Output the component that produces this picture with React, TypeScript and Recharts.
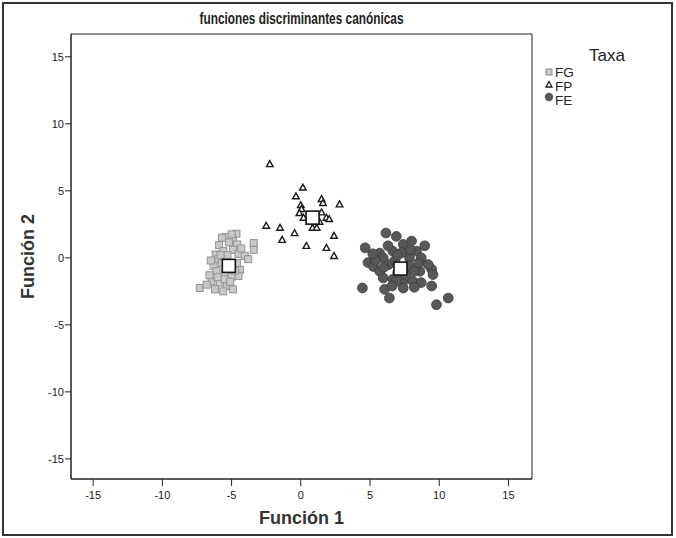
import React from 'react';
import { ScatterChart, Scatter, XAxis, YAxis, ReferenceArea } from 'recharts';

const TITLE = 'funciones discriminantes canónicas';
const X_LABEL = 'Función 1';
const Y_LABEL = 'Función 2';
const LEGEND_TITLE = 'Taxa';
const TICKS = [-15, -10, -5, 0, 5, 10, 15];
const X_DOMAIN = [-16.6, 16.7];
const Y_DOMAIN = [-16.5, 16.7];

// grupo FG (cuadrados grises)
const fgPoints = [
  [-4.65, 1.8], [-5.4, 1.55], [-4.9, 1.3], [-3.4, 1.1], [-3.4, 0.6], [-5.9, 0.95],
  [-5.2, 1.15], [-4.6, 1.0], [-5.6, 0.5], [-4.9, 0.6], [-4.5, 0.3], [-4.05, 0.15],
  [-3.8, -0.1], [-6.15, 0.25], [-5.95, -0.1], [-6.3, -0.6], [-5.7, -0.4], [-4.6, -0.4],
  [-6.1, -1.0], [-5.5, -1.1], [-4.4, -0.9], [-4.5, -1.35], [-5.0, -1.4], [-6.45, -1.75],
  [-5.85, -1.85], [-5.35, -2.1], [-7.3, -2.25], [-6.2, -2.35], [-5.6, -2.5], [-4.9, -2.35],
  [-6.6, -1.3], [-5.3, 0.2], [-4.75, -0.95], [-6.0, -1.45], [-5.5, -1.6], [-5.1, -1.8],
  [-6.8, -2.0], [-5.8, 0.2], [-4.3, 0.7], [-6.5, -0.2], [-5.0, 1.75], [-5.7, 1.5],
];

// grupo FP (triángulos)
const fpPoints = [
  [-2.24, 7.0], [0.15, 5.25], [-0.35, 4.6], [1.5, 4.4], [1.6, 4.1], [2.8, 4.0],
  [0.0, 3.95], [0.05, 3.65], [-0.1, 3.35], [0.2, 3.0], [1.5, 3.4], [1.85, 3.0],
  [2.05, 2.9], [1.35, 2.7], [0.85, 2.25], [1.15, 2.25], [-2.5, 2.4], [-1.5, 2.25],
  [-0.45, 1.85], [2.4, 1.65], [-1.35, 1.35], [0.4, 0.9], [1.85, 0.75], [2.4, 0.15],
];

// grupo FE (círculos oscuros)
const fePoints = [
  [6.15, 1.85], [6.9, 1.6], [8.0, 1.25], [8.95, 0.9], [4.65, 0.75], [7.4, 1.0],
  [5.7, 0.35], [6.65, 0.5], [8.35, 0.5], [4.85, -0.35], [5.95, 0.0], [7.85, 0.0],
  [8.7, 0.0], [5.25, -0.65], [5.7, -1.0], [6.35, -0.5], [7.8, -0.6], [8.6, -1.0],
  [9.45, -0.85], [9.55, -1.25], [5.95, -1.5], [6.65, -1.6], [7.4, -1.75], [8.1, -1.75],
  [8.7, -1.85], [9.45, -2.1], [4.45, -2.25], [6.05, -2.35], [6.4, -3.0], [7.4, -2.25],
  [9.8, -3.5], [10.65, -3.0], [6.9, -1.75], [7.0, -1.1], [7.3, 0.4], [6.3, 0.9],
  [7.9, 0.6], [8.5, -0.4], [6.8, -0.2], [5.4, -0.2], [7.6, -1.3], [8.2, -1.0],
  [6.0, -0.7], [9.2, -0.5], [5.2, 0.3], [8.2, -2.2], [7.0, 0.2], [6.6, -2.1],
];

// centroides de grupo
const centroidPoints = [[-5.2, -0.6], [0.85, 3.0], [7.2, -0.8]];

const LEGEND_ITEMS = ['FG', 'FP', 'FE'];

const toXY = (pts: number[][]) => pts.map(([x, y]) => ({ x, y }));

const SquareMark = ({ cx, cy }: any) => (
  <rect x={cx - 3.5} y={cy - 3.5} width={7} height={7} fill="#c9c9c9" stroke="#949494" strokeWidth={1} />
);

const TriangleMark = ({ cx, cy }: any) => (
  <polygon
    points={`${cx},${cy - 3.3} ${cx - 3.3},${cy + 2.6} ${cx + 3.3},${cy + 2.6}`}
    fill="#fff"
    stroke="#1a1a1a"
    strokeWidth={1.4}
  />
);

const CircleMark = ({ cx, cy }: any) => (
  <circle cx={cx} cy={cy} r={4.9} fill="#585858" stroke="#3c3c3c" strokeWidth={0.8} />
);

const CentroidMark = ({ cx, cy }: any) => (
  <rect x={cx - 6.5} y={cy - 6.5} width={13} height={13} fill="#fff" stroke="#111" strokeWidth={1.6} />
);

const FONT = "'Liberation Sans', Arial, Helvetica, sans-serif";

const App: React.FC = () => {
  return (
    <div style={{ position: 'absolute', left: 0, top: 0, width: 676, height: 538, background: '#fff' }}>
      <ScatterChart width={676} height={538} margin={{ top: 34, right: 144, bottom: 29, left: 31 }}>
        <XAxis
          type="number"
          dataKey="x"
          domain={X_DOMAIN}
          ticks={TICKS}
          allowDataOverflow
          height={30}
          tickSize={7}
          tickMargin={5}
          axisLine={{ stroke: '#222' }}
          tickLine={{ stroke: '#222' }}
          tick={{ fill: '#222', fontSize: 11, fontFamily: FONT }}
          label={{
            value: X_LABEL,
            position: 'insideBottom',
            offset: -15,
            style: { fontSize: 18, fontWeight: 'bold', fill: '#333', fontFamily: FONT },
          }}
        />
        <YAxis
          type="number"
          dataKey="y"
          domain={Y_DOMAIN}
          ticks={TICKS}
          allowDataOverflow
          width={40}
          tickSize={6}
          tickMargin={1}
          axisLine={{ stroke: '#222' }}
          tickLine={{ stroke: '#222' }}
          tick={{ fill: '#222', fontSize: 11, fontFamily: FONT }}
          label={{
            value: Y_LABEL,
            angle: -90,
            position: 'insideLeft',
            offset: -3,
            style: { fontSize: 18, fontWeight: 'bold', fill: '#333', fontFamily: FONT, textAnchor: 'middle' },
          }}
        />
        <ReferenceArea
          x1={X_DOMAIN[0]}
          x2={X_DOMAIN[1]}
          y1={Y_DOMAIN[0]}
          y2={Y_DOMAIN[1]}
          fill="none"
          stroke="#222"
          strokeWidth={1}
          ifOverflow="visible"
        />
        <Scatter name="FG" data={toXY(fgPoints)} shape={SquareMark} isAnimationActive={false} />
        <Scatter name="FP" data={toXY(fpPoints)} shape={TriangleMark} isAnimationActive={false} />
        <Scatter name="FE" data={toXY(fePoints)} shape={CircleMark} isAnimationActive={false} />
        <Scatter name="centroide" data={toXY(centroidPoints)} shape={CentroidMark} isAnimationActive={false} />
      </ScatterChart>

      {/* marco exterior, título y leyenda */}
      <svg width={676} height={538} style={{ position: 'absolute', left: 0, top: 0, pointerEvents: 'none' }}>
        <rect x={3} y={3} width={669} height={532} fill="none" stroke="#333" strokeWidth={2} />
        <text
          x={301.5}
          y={24}
          textAnchor="middle"
          fontSize={17}
          fontWeight="bold"
          fill="#222"
          fontFamily={FONT}
          textLength={204}
          lengthAdjust="spacingAndGlyphs"
        >
          {TITLE}
        </text>
        <text x={589} y={61} fontSize={17} fill="#222" fontFamily={FONT}>
          {LEGEND_TITLE}
        </text>
        {LEGEND_ITEMS.map((name, i) => {
          const cy = 72 + i * 12.5;
          const Mark = i === 0 ? (
            <rect x={546} y={cy - 3} width={6} height={6} fill="#c9c9c9" stroke="#8e8e8e" strokeWidth={1} />
          ) : i === 1 ? (
            <polygon points={`549,${cy - 3} 546,${cy + 2.5} 552,${cy + 2.5}`} fill="#fff" stroke="#1a1a1a" strokeWidth={1.3} />
          ) : (
            <circle cx={549} cy={cy} r={4.2} fill="#585858" />
          );
          return (
            <g key={name}>
              {Mark}
              <text x={555} y={cy + 5 + i * 1.5} fontSize={13.5} fill="#222" fontFamily={FONT}>
                {name}
              </text>
            </g>
          );
        })}
      </svg>
    </div>
  );
};

export default App;
